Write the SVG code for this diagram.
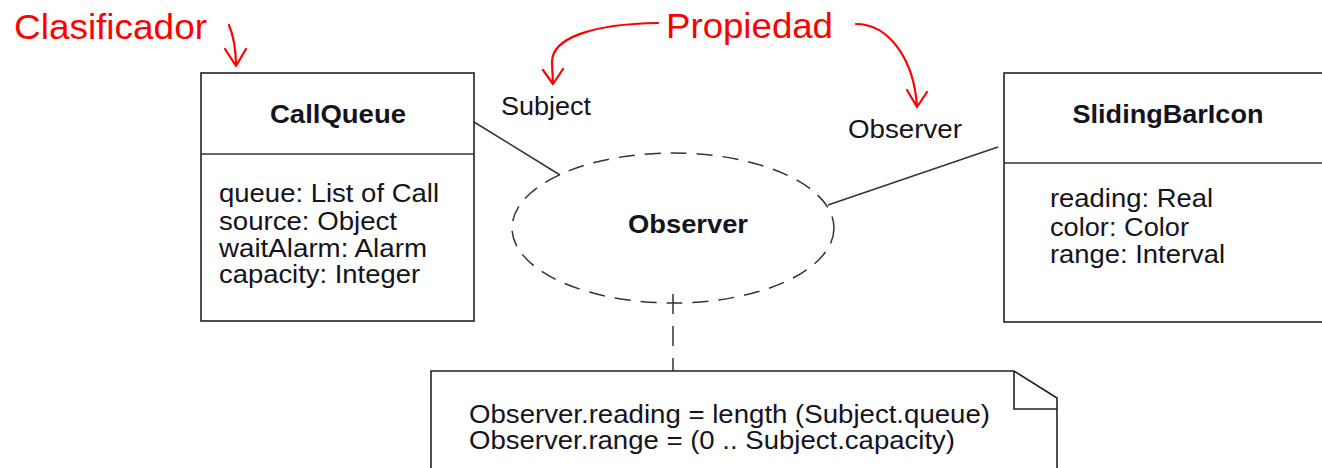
<svg xmlns="http://www.w3.org/2000/svg" width="1322" height="468" viewBox="0 0 1322 468">
<style>
text{font-family:"Liberation Sans",Arial,sans-serif;fill:#141420}
.t{font-size:26px;font-weight:bold;text-anchor:middle}
.a{font-size:25px}
.lbl{font-size:26px}
.red{font-size:35px;fill:#ff0000}
.box{fill:#fff;stroke:#222;stroke-width:1.6}
.ln{fill:none;stroke:#333;stroke-width:1.5}
.rd{fill:none;stroke:#ff0000;stroke-width:2.2;stroke-linecap:round;stroke-linejoin:round}
</style>
<rect width="1322" height="468" fill="#fff"/>
<g id="annotations">
<text class="red" x="14" y="39" textLength="193" lengthAdjust="spacingAndGlyphs">Clasificador</text>
<text class="red" x="666" y="38" textLength="167" lengthAdjust="spacingAndGlyphs">Propiedad</text>
<path class="rd" d="M229,25 Q236,42 236,66 M225,49 L236,66 L246,49"/>
<path class="rd" d="M658,23 C592,24 552,38 552,62 L553,84 M543,70 L553,84 L563,69"/>
<path class="rd" d="M856,24 C888,24 914,58 917,107 M907,90 L917,107 L927,92"/>
</g>
<g id="connectors">
<line class="ln" x1="474" y1="122" x2="560" y2="175"/>
<line class="ln" x1="828" y1="205" x2="998" y2="147"/>
<line class="ln" x1="673" y1="294" x2="673" y2="371" stroke-dasharray="20 12"/>
<text class="lbl" x="501" y="115" textLength="90" lengthAdjust="spacingAndGlyphs">Subject</text>
<text class="lbl" x="848" y="138" textLength="114" lengthAdjust="spacingAndGlyphs">Observer</text>
</g>
<g id="CallQueue">
<rect class="box" x="201" y="73" width="273" height="248"/>
<line class="ln" x1="201" y1="154" x2="474" y2="154" stroke="#222"/>
<text class="t" x="338" y="123" textLength="136" lengthAdjust="spacingAndGlyphs">CallQueue</text>
<text class="a" x="219" y="202" textLength="220" lengthAdjust="spacingAndGlyphs">queue: List of Call</text>
<text class="a" x="219" y="230" textLength="178" lengthAdjust="spacingAndGlyphs">source: Object</text>
<text class="a" x="219" y="257" textLength="208" lengthAdjust="spacingAndGlyphs">waitAlarm: Alarm</text>
<text class="a" x="219" y="283" textLength="201" lengthAdjust="spacingAndGlyphs">capacity: Integer</text>
</g>
<g id="SlidingBarIcon">
<rect class="box" x="1004" y="73" width="330" height="249"/>
<line class="ln" x1="1004" y1="163" x2="1322" y2="163" stroke="#222"/>
<text class="t" x="1168" y="123" textLength="191" lengthAdjust="spacingAndGlyphs">SlidingBarIcon</text>
<text class="a" x="1050" y="207" textLength="163" lengthAdjust="spacingAndGlyphs">reading: Real</text>
<text class="a" x="1050" y="236" textLength="139" lengthAdjust="spacingAndGlyphs">color: Color</text>
<text class="a" x="1050" y="263" textLength="175" lengthAdjust="spacingAndGlyphs">range: Interval</text>
</g>
<g id="ObserverCollab">
<ellipse cx="673" cy="228" rx="161" ry="75" fill="none" stroke="#333" stroke-width="1.5" stroke-dasharray="16 10"/>
<text class="t" x="688" y="233" textLength="120" lengthAdjust="spacingAndGlyphs">Observer</text>
</g>
<g id="Note">
<path d="M431,468 L431,371 L1014,371 L1057,398 L1057,468" fill="#fff" stroke="#222" stroke-width="1.6"/>
<path d="M1014,371 L1014,409 L1057,409" fill="none" stroke="#222" stroke-width="1.6"/>
<text class="a" x="469" y="423" textLength="521" lengthAdjust="spacingAndGlyphs">Observer.reading = length (Subject.queue)</text>
<text class="a" x="469" y="449" textLength="486" lengthAdjust="spacingAndGlyphs">Observer.range = (0 .. Subject.capacity)</text>
</g>
</svg>
